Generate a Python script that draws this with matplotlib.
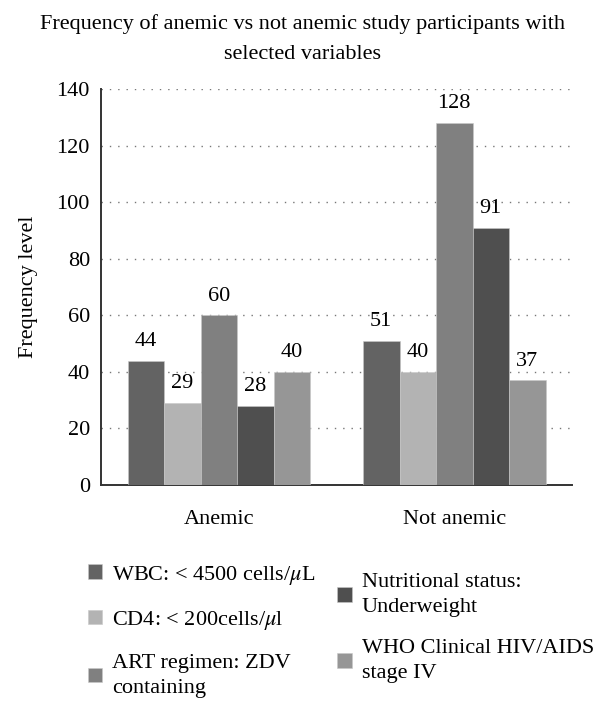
import numpy as np
import matplotlib.pyplot as plt

plt.rcParams['font.family'] = ['Liberation Serif', 'DejaVu Serif']
plt.rcParams['mathtext.fontset'] = 'stix'

# data
groups = ["Anemic", "Not anemic"]
series = ["WBC: < 4500 cells/$\\mu$L",
          "CD4: < 200cells/$\\mu$l",
          "ART regimen: ZDV\ncontaining",
          "Nutritional status:\nUnderweight",
          "WHO Clinical HIV/AIDS\nstage IV"]
wbc = [44, 51]
cd4 = [29, 40]
art = [60, 128]
nutri = [28, 91]
who = [40, 37]
values = [wbc, cd4, art, nutri, who]
colors = ["#636363", "#b3b3b3", "#808080", "#4f4f4f", "#969696"]

fs = 16

fig = plt.figure(figsize=(6.06, 7.13), dpi=100)
ax = fig.add_axes([0.1667, 0.3198, 0.7772, 0.5553])

x = np.arange(len(groups))
w = 0.155
handles = []
for i, (vals, name, c) in enumerate(zip(values, series, colors)):
    pos = x + (i - 2) * w
    bars = ax.bar(pos, vals, width=w, color=c, edgecolor="#c8c8c8", linewidth=0.4, label=name, zorder=3)
    handles.append(bars)
    for b, v in zip(bars, vals):
        ax.annotate(str(v), (b.get_x() + b.get_width() / 2, v), xytext=(0, 7),
                    textcoords="offset points", ha="center", va="bottom", fontsize=fs)

ax.set_xlim(-0.5, 1.5)
ax.set_ylim(0, 140)
ax.set_yticks(range(0, 141, 20))
ax.set_xticks(x)
ax.set_xticklabels(groups, fontsize=fs)
ax.tick_params(axis="x", length=0, pad=18)
ax.tick_params(axis="y", length=0, pad=8, labelsize=fs)
ax.grid(axis="y", linestyle=(0, (1, 5)), color="#777777", linewidth=1, zorder=0)

for s in ["top", "right"]:
    ax.spines[s].set_visible(False)
for s in ["left", "bottom"]:
    ax.spines[s].set_color("#333333")
    ax.spines[s].set_linewidth(1.4)

ax.set_ylabel("Frequency level", fontsize=fs, labelpad=13)
fig.suptitle("Frequency of anemic vs not anemic study participants with\nselected variables",
             fontsize=fs, y=0.98, linespacing=1.75)

# legend in two columns, built as two legends so each column can be placed
kw = dict(loc="upper left", frameon=False, fontsize=fs, handlelength=0.65, handleheight=0.65,
          handletextpad=0.45)
leg1 = ax.legend(handles[:3], series[:3], bbox_to_anchor=(-0.071, -0.148), labelspacing=1.0, **kw)
for t in leg1.get_texts():
    t.set_linespacing(1.4)
ax.add_artist(leg1)
leg2 = ax.legend(handles[3:], series[3:], bbox_to_anchor=(0.459, -0.173), labelspacing=1.0, **kw)
for t in leg2.get_texts():
    t.set_linespacing(1.4)

fig.savefig("out.png", dpi=100)
